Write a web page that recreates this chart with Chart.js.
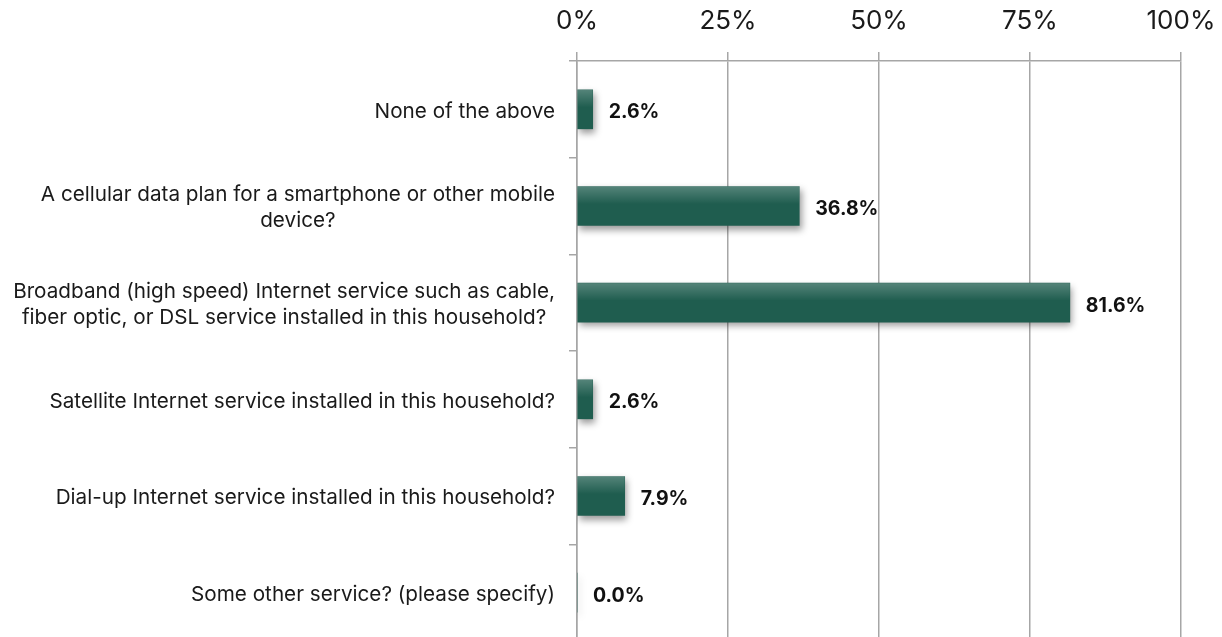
<!DOCTYPE html>
<html>
<head>
<meta charset="utf-8">
<script src="https://cdn.jsdelivr.net/npm/chart.js@4/dist/chart.umd.min.js"></script>
<style>
  html, body { margin: 0; padding: 0; background: #fff; overflow: hidden; }
  #wrap { position: relative; width: 1222px; height: 641px; }
</style>
</head>
<body>
<div id="wrap"><canvas id="chart"></canvas></div>
<script>
const categories = [
    ['None of the above'],
    ['A cellular data plan for a smartphone or other mobile', 'device?'],
    ['Broadband (high speed) Internet service such as cable,', 'fiber optic, or DSL service installed in this household?'],
    ['Satellite Internet service installed in this household?'],
    ['Dial-up Internet service installed in this household?'],
    ['Some other service? (please specify)'],
];
const shares = [2.6, 36.8, 81.6, 2.6, 7.9, 0.0];
const tickValues = [0, 25, 50, 75, 100];

const FONT = 'Inter, "Noto Sans", sans-serif';
const GRID = '#a6a6a6';
const BAR = '#1f5d4f';

// soft drop shadow under the bars
const barShadow = {
    id: 'barShadow',
    beforeDatasetDraw(chart) {
        const ctx = chart.ctx;
        ctx.save();
        ctx.shadowColor = 'rgba(0,0,0,0.4)';
        ctx.shadowBlur = 7;
        ctx.shadowOffsetX = 2;
        ctx.shadowOffsetY = 4;
    },
    afterDatasetDraw(chart) {
        chart.ctx.restore();
    },
};

// lighter sheen along the top edge of each bar
const barSheen = {
    id: 'barSheen',
    afterDatasetsDraw(chart) {
        const ctx = chart.ctx;
        const meta = chart.getDatasetMeta(0);
        ctx.save();
        meta.data.forEach(bar => {
            const w = bar.x - bar.base;
            if (w <= 0) return;
            const top = bar.y - bar.height / 2;
            const g = ctx.createLinearGradient(0, top, 0, top + bar.height * 0.45);
            g.addColorStop(0, 'rgba(255,255,255,0.24)');
            g.addColorStop(1, 'rgba(255,255,255,0)');
            ctx.fillStyle = g;
            ctx.fillRect(bar.base, top, w, bar.height * 0.45);
        });
        ctx.restore();
    },
};

// category labels: block right-aligned to the axis, each line centred in it
const categoryLabels = {
    id: 'categoryLabels',
    afterDraw(chart) {
        const ctx = chart.ctx;
        const y = chart.scales.y;
        const right = y.right - 22;
        const lh = 26;
        ctx.save();
        ctx.font = '20.7px ' + FONT;
        ctx.fillStyle = '#1a1a1a';
        ctx.textBaseline = 'middle';
        ctx.textAlign = 'center';
        categories.forEach((lines, i) => {
            const w = Math.max(...lines.map(l => ctx.measureText(l).width));
            const cx = right - w / 2;
            const cy = y.getPixelForTick(i) + 2;
            lines.forEach((l, k) => {
                ctx.fillText(l, cx, cy + (k - (lines.length - 1) / 2) * lh);
            });
        });
        ctx.restore();
    },
};

// value labels just past the bar end
const valueLabels = {
    id: 'valueLabels',
    afterDatasetsDraw(chart) {
        const ctx = chart.ctx;
        const meta = chart.getDatasetMeta(0);
        ctx.save();
        ctx.font = 'bold 19.5px ' + FONT;
        ctx.fillStyle = '#111';
        ctx.textBaseline = 'middle';
        ctx.textAlign = 'left';
        meta.data.forEach((bar, i) => {
            ctx.fillText(shares[i].toFixed(1) + '%', bar.x + 16, bar.y + 3);
        });
        ctx.restore();
    },
};

new Chart(document.getElementById('chart'), {
    type: 'bar',
    data: {
        labels: categories,
        datasets: [{
            data: shares,
            backgroundColor: BAR,
            barThickness: 39,
        }],
    },
    options: {
        indexAxis: 'y',
        responsive: true,
        maintainAspectRatio: false,
        animation: false,
        layout: { padding: { left: 0, right: 41, top: 0, bottom: 0 } },
        plugins: {
            legend: { display: false },
            tooltip: { enabled: false },
        },
        scales: {
            x: {
                position: 'top',
                min: 0,
                max: 100,
                afterBuildTicks(scale) {
                    scale.ticks = tickValues.map(v => ({ value: v }));
                },
                afterFit(scale) {
                    scale.height = 61;
                    scale.paddingLeft = 0;
                    scale.paddingRight = 0;
                },
                ticks: {
                    color: '#1a1a1a',
                    font: { family: FONT, size: 26 },
                    padding: 15,
                    maxRotation: 0,
                    callback: v => v + '%',
                },
                grid: { color: GRID, lineWidth: 1.5, tickLength: 9 },
                border: { color: GRID, width: 1.5 },
            },
            y: {
                afterFit(scale) { scale.width = 577; },
                ticks: { display: false },
                grid: {
                    offset: true,
                    drawOnChartArea: false,
                    drawTicks: true,
                    tickLength: 8,
                    color: GRID,
                    lineWidth: 1.5,
                },
                border: { color: GRID, width: 1.5 },
            },
        },
    },
    plugins: [barShadow, barSheen, categoryLabels, valueLabels],
});
</script>
</body>
</html>
